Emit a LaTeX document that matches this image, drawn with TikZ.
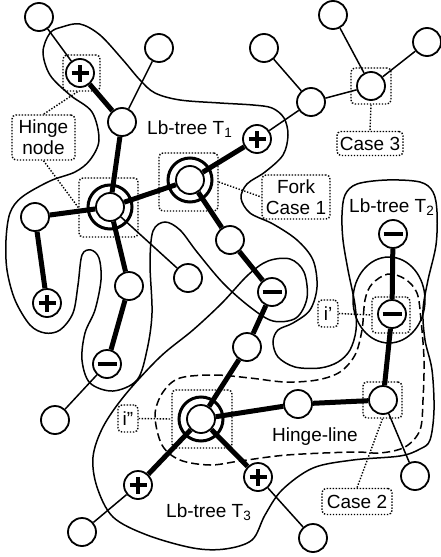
\documentclass[tikz,border=0pt]{standalone}
\usepackage{fontspec}
\setmainfont{Liberation Sans}
\newcommand\lbsub[1]{\raisebox{-0.35ex}{\fontsize{13.5}{13.5}\selectfont #1}}
\begin{document}
\begin{tikzpicture}[x=1pt,y=-1pt,
  font=\fontsize{19}{21}\selectfont,
  vtx/.style={circle,draw,line width=1.8pt,fill=white,minimum size=28pt,inner sep=0pt},
  plusv/.style={vtx,path picture={
      \draw[line width=3.6pt] ([xshift=-8.5pt]path picture bounding box.center) -- ([xshift=8.5pt]path picture bounding box.center);
      \draw[line width=3.6pt] ([yshift=-8.5pt]path picture bounding box.center) -- ([yshift=8.5pt]path picture bounding box.center);}},
  minusv/.style={vtx,path picture={
      \draw[line width=4.2pt] ([xshift=-9.5pt]path picture bounding box.center) -- ([xshift=9.5pt]path picture bounding box.center);}},
  ring/.style={line width=3pt},
  thin edge/.style={line width=1.5pt},
  thick edge/.style={line width=5pt},
  region/.style={line width=1.5pt},
  hingeline/.style={line width=1.5pt,dash pattern=on 8pt off 4pt},
  dotbox/.style={draw,rectangle,rounded corners=4pt,line width=1.4pt,dash pattern=on 1.4pt off 1.6pt,inner sep=0pt},
  dotlead/.style={line width=1.4pt,dash pattern=on 1.4pt off 1.6pt},
  tag/.style={dotbox,align=center},
  txt/.style={anchor=base west,inner sep=0pt},
]
\useasboundingbox (0,0) rectangle (441,557);

% outline of the Lb-trees T1, T2 and T3
\draw[region] plot[smooth cycle,tension=0.55] coordinates {
  (62,27) (80,24) (100,35) (123,60) (140,80) (155,93) (180,100) (220,103)
  (253,105) (272,108) (284,118) (288,135) (283,155) (265,172) (247,184)
  (241,198) (250,213) (273,224) (297,240) (313,260) (317,287) (310,310)
  (293,323) (278,330) (273,342) (278,357) (295,367) (320,368) (338,362)
  (350,350) (356,330) (355,305) (348,270) (343,240) (342,215) (345,195)
  (357,184) (387,180) (420,182) (433,192) (437,212) (436,245) (428,280)
  (423,310) (425,340) (432,370) (434,410) (430,440) (420,449) (400,456)
  (353,460) (313,468) (282,490) (265,515) (252,540) (225,549) (193,548)
  (147,535) (113,517) (97,487) (93,457) (103,427) (125,395) (160,357)
  (193,330) (222,303) (248,275) (268,261) (290,259) (304,272) (307,298)
  (296,318) (273,321) (250,307) (223,283) (197,252) (180,230) (165,222)
  (153,231) (150,263) (152,313) (147,350) (137,380) (113,391) (90,383)
  (82,360) (85,333) (95,310) (101,280) (99,258) (91,250) (82,255) (78,285)
  (73,313) (60,330) (45,333) (30,325) (15,300) (7,270) (6,240) (10,213)
  (22,197) (50,181) (75,172) (90,160) (99,140) (92,112) (70,95) (50,75)
  (43,52) (50,33)};
\draw[region] (389,300) ellipse [x radius=36pt, y radius=43pt];

% region along the hinge-line
\draw[hingeline] plot[smooth cycle,tension=0.55] coordinates {
  (180,378) (215,375) (250,378) (285,382) (317,380) (340,372) (355,355)
  (362,330) (365,300) (372,284) (388,274) (405,279) (417,293) (421,320)
  (424,360) (423,400) (420,430) (405,447) (380,453) (353,452) (287,455)
  (240,461) (210,465) (180,460) (162,445) (155,415) (163,392)};

% vertices
\node[vtx] (A) at (39,17) {};
\node[plusv] (P1) at (80,73) {};
\node[vtx] (B) at (122,122) {};
\node[vtx] (C) at (159,48) {};
\node[vtx] (H1) at (110,207) {};
\node[vtx] (L) at (35,217) {};
\node[plusv] (P3) at (47,303) {};
\node[vtx] (M) at (129,286) {};
\node[minusv] (Mi1) at (107,364) {};
\node[vtx] (W) at (55,420) {};
\node[vtx] (N) at (188,278) {};
\node[vtx] (F) at (190,180) {};
\node[plusv] (P2) at (257,139) {};
\node[vtx] (D) at (311,102) {};
\node[vtx] (E) at (264,48) {};
\node[vtx] (C3) at (371,86) {};
\node[vtx] (G) at (333,15) {};
\node[vtx] (K) at (427,42) {};
\node[vtx] (Q) at (230,240) {};
\node[minusv] (Mi2) at (272,292) {};
\node[vtx] (R) at (247,347) {};
\node[vtx] (H2) at (201,419) {};
\node[vtx] (S) at (298,404) {};
\node[vtx] (C2) at (383,400) {};
\node[minusv] (Mi3) at (392,314) {};
\node[minusv] (Mi4) at (393,234) {};
\node[vtx] (K2) at (415,476) {};
\node[plusv] (P4) at (138,485) {};
\node[vtx] (U) at (82,532) {};
\node[plusv] (P5) at (258,477) {};
\node[vtx] (V) at (313,538) {};

% thin edges
\foreach \u/\v in {A/P1,C/B,Mi1/W,H1/N,P2/D,D/E,D/C3,C3/G,C3/K,C2/K2,P4/U,P5/V}
  \draw[thin edge] (\u) -- (\v);
% thick edges of the Lb-trees
\foreach \u/\v in {P1/B,B/H1,H1/L,L/P3,H1/M,M/Mi1,H1/F,F/P2,F/Q,Q/Mi2,Mi2/R,R/H2,H2/S,S/C2,C2/Mi3,Mi3/Mi4,H2/P4,H2/P5}
  \draw[thick edge] (\u) -- (\v);

% outer rings of the hinge and fork vertices
\draw[ring] (H1.center) circle[radius=22pt];
\draw[ring] (F.center) circle[radius=22pt];
\draw[ring] (H2.center) circle[radius=22pt];

% dotted frames around marked vertices
\node[dotbox,minimum width=37pt,minimum height=36pt] (P1b) at (81.5,73) {};
\node[dotbox,minimum width=59pt,minimum height=59pt] (H1b) at (108.5,207.5) {};
\node[dotbox,minimum width=59pt,minimum height=58pt] (Fb) at (188.5,182) {};
\node[dotbox,minimum width=60pt,minimum height=58pt] (H2b) at (202,419) {};
\node[dotbox,minimum width=40pt,minimum height=36pt] (C3b) at (371,86) {};
\node[dotbox,minimum width=38pt,minimum height=36pt] (Mi3b) at (391,315) {};
\node[dotbox,minimum width=39pt,minimum height=36pt] (C2b) at (382.5,400) {};

% tags
\node[tag,minimum width=63pt,minimum height=45pt] (hn) at (43.5,137.5) {Hinge\\node};
\node[tag,minimum width=68pt,minimum height=44pt] (fk) at (296,197) {Fork\\Case 1};
\node[tag,minimum width=66pt,minimum height=24pt] (c3l) at (370,143.5) {Case 3};
\node[tag,minimum width=70pt,minimum height=26pt] (c2l) at (357,501.5) {Case 2};
\node[tag,minimum width=20pt,minimum height=27pt] (ipl) at (328,313.5) {i\char"27};
\node[tag,minimum width=20pt,minimum height=27pt] (ippl) at (128,418.5) {i\char"22};

\draw[dotlead] ([xshift=-4pt]P1b.south) -- (hn.north);
\draw[dotlead] (hn.south) -- (H1b.west);
\draw[dotlead] (Fb.east) -- (fk.west);
\draw[dotlead] (C3b.south) -- (c3l.north);
\draw[dotlead] (ipl.east) -- (Mi3b.west);
\draw[dotlead] (ippl.east) -- (H2b.west);
\draw[dotlead] (C2b.south) -- (c2l.north);

% free labels
\node[txt] (lt1) at (147,134) {Lb-tree T\lbsub{1}};
\node[txt] (lt2) at (349,212) {Lb-tree T\lbsub{2}};
\node[txt] (lt3) at (166,517) {Lb-tree T\lbsub{3}};
\node[txt] (hl) at (272,441) {Hinge-line};
\end{tikzpicture}
\end{document}
